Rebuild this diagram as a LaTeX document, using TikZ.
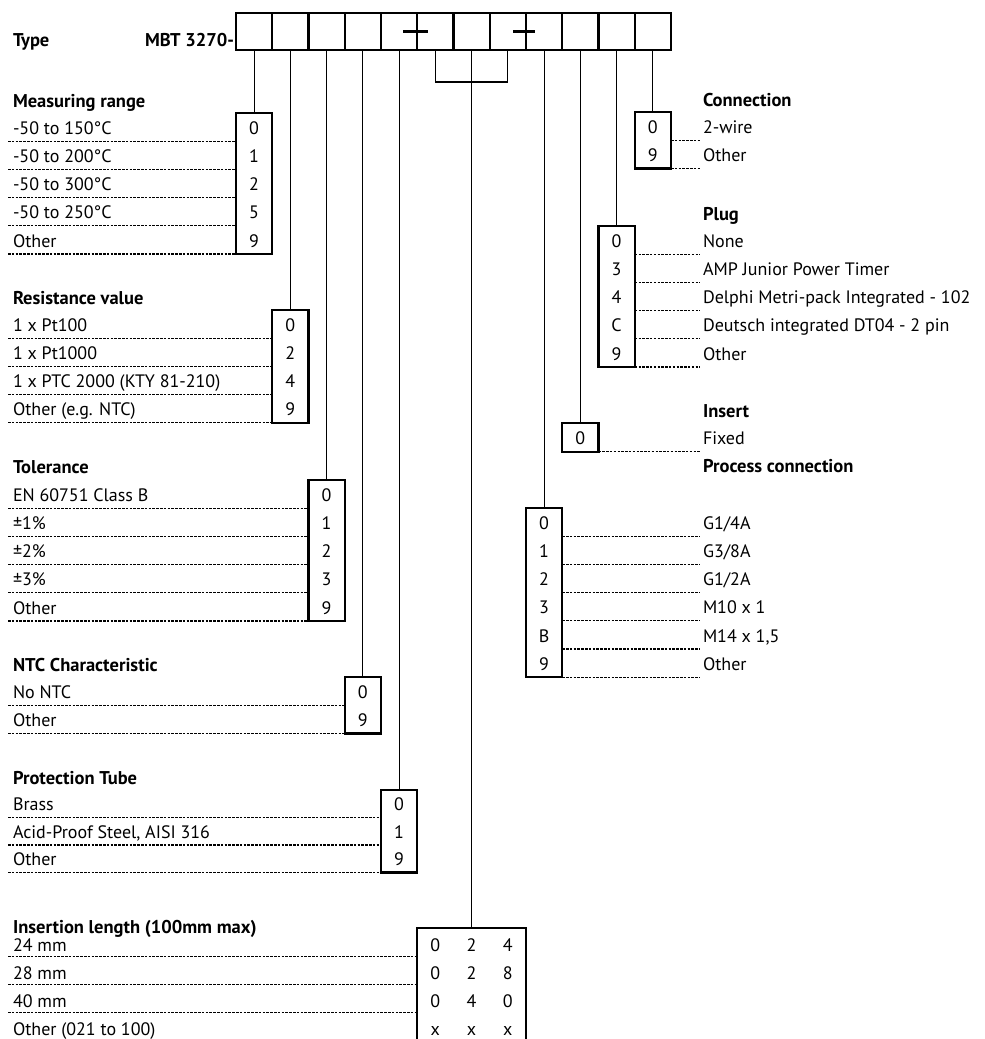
\documentclass[tikz,border=0pt]{standalone}
\usepackage{fontspec}
\setmainfont{PT Sans}
\usetikzlibrary{positioning,calc}

\begin{document}
\begin{tikzpicture}[x=1pt, y=-1pt,
  every node/.style={inner sep=0pt, outer sep=0pt, font=\fontsize{18}{21}\selectfont},
  cell/.style={rectangle, draw, line width=2.2pt, minimum width=36.25pt, minimum height=37pt},
  codebox/.style={rectangle, draw, line width=2.2pt, minimum width=36.25pt, anchor=north},
  title/.style={anchor=base west, font=\fontsize{18.5}{21}\selectfont\bfseries},
  item/.style={anchor=base west},
  code/.style={anchor=base},
  link/.style={line width=1.1pt},
  leader/.style={line width=1.1pt, dash pattern=on 2.5pt off 1.3pt}
]
  \useasboundingbox (0,0) rectangle (985,1039);

  % type code row
  \node[title] (type) at (13,46) {Type};
  \node[title, anchor=base east] (model) at (234,46) {MBT 3270-};
  \foreach \i in {1,...,12}
    \node[cell] (c\i) at ({236+36.25*(\i-0.5)},31.5) {};
  \draw[line width=2.2pt] ([xshift=-14pt]c6.west) -- ([xshift=11pt]c6.west);
  \draw[line width=2.2pt] ([xshift=-13pt]c9.west) -- ([xshift=9pt]c9.west);

  % measuring range
  \node[codebox, minimum height=141pt] (range) at (c1 |- 0,113) {};
  \node[title] (range-h) at (13,107) {Measuring range};
  \foreach \t/\c [count=\r] in {-50 to 150°C/0, -50 to 200°C/1, -50 to 300°C/2, -50 to 250°C/5, Other/9} {
    \pgfmathsetmacro\y{113+28.2*\r} \pgfmathsetmacro\b{\y-7}
    \node[item] (range-t\r) at (13,\b) {\t};
    \node[code] (range-c\r) at (range |- 0,\b) {\c};
    \draw[leader] (8,\y) -- (range.west |- 0,\y);
  }
  \draw[link] (c1.south) -- (range.north);

  % resistance value
  \node[codebox, minimum height=112.8pt] (resist) at (c2 |- 0,310) {};
  \node[title] (resist-h) at (13,304) {Resistance value};
  \foreach \t/\c [count=\r] in {1 x Pt100/0, 1 x Pt1000/2, 1 x PTC 2000 (KTY 81-210)/4, Other (e.g. NTC)/9} {
    \pgfmathsetmacro\y{310+28.2*\r} \pgfmathsetmacro\b{\y-7}
    \node[item] (resist-t\r) at (13,\b) {\t};
    \node[code] (resist-c\r) at (resist |- 0,\b) {\c};
    \draw[leader] (8,\y) -- (resist.west |- 0,\y);
  }
  \draw[link] (c2.south) -- (resist.north);

  % tolerance
  \node[codebox, minimum height=141pt] (toler) at (c3 |- 0,480) {};
  \node[title] (toler-h) at (13,473) {Tolerance};
  \foreach \t/\c [count=\r] in {EN 60751 Class B/0, ±1\%/1, ±2\%/2, ±3\%/3, Other/9} {
    \pgfmathsetmacro\y{480+28.2*\r} \pgfmathsetmacro\b{\y-7}
    \node[item] (toler-t\r) at (13,\b) {\t};
    \node[code] (toler-c\r) at (toler |- 0,\b) {\c};
    \draw[leader] (8,\y) -- (toler.west |- 0,\y);
  }
  \draw[link] (c3.south) -- (toler.north);

  % NTC characteristic
  \node[codebox, minimum height=56.4pt] (ntc) at (c4 |- 0,677) {};
  \node[title] (ntc-h) at (13,671) {NTC Characteristic};
  \foreach \t/\c [count=\r] in {No NTC/0, Other/9} {
    \pgfmathsetmacro\y{677+28.2*\r} \pgfmathsetmacro\b{\y-7}
    \node[item] (ntc-t\r) at (13,\b) {\t};
    \node[code] (ntc-c\r) at (ntc |- 0,\b) {\c};
    \draw[leader] (8,\y) -- (ntc.west |- 0,\y);
  }
  \draw[link] (c4.south) -- (ntc.north);

  % protection tube
  \node[codebox, minimum height=82.5pt] (tube) at (c5 |- 0,790) {};
  \node[title] (tube-h) at (13,784) {Protection Tube};
  \foreach \t/\c [count=\r] in {Brass/0, {Acid-Proof Steel, AISI 316}/1, Other/9} {
    \pgfmathsetmacro\y{790+27.5*\r} \pgfmathsetmacro\b{\y-7}
    \node[item] (tube-t\r) at (13,\b) {\t};
    \node[code] (tube-c\r) at (tube |- 0,\b) {\c};
    \draw[leader] (8,\y) -- (tube.west |- 0,\y);
  }
  \draw[link] (c5.south) -- (tube.north);

  % insertion length
  \node[codebox, minimum width=108.75pt, minimum height=112.8pt] (length) at (c7 |- 0,928) {};
  \node[title] (length-h) at (13,933) {Insertion length (100mm max)};
  \foreach \t/\p/\q/\s [count=\r] in {24 mm/0/2/4, 28 mm/0/2/8, 40 mm/0/4/0, Other (021 to 100)/x/x/x} {
    \pgfmathsetmacro\y{928+28.2*\r} \pgfmathsetmacro\b{\y-5}
    \node[item] (length-t\r) at (13,\b) {\t};
    \node[code] (length-a\r) at (c6 |- 0,\b) {\p};
    \node[code] (length-b\r) at (c7 |- 0,\b) {\q};
    \node[code] (length-d\r) at (c8 |- 0,\b) {\s};
    \ifnum\r<4 \draw[leader] (8,\y) -- (length.west |- 0,\y); \fi
  }
  \draw[link] (c6.south) -- ++(0,32) -| (c8.south);
  \draw[link] (c7.south) -- (length.north);

  % connection
  \node[codebox, minimum height=56.4pt] (conn) at (c12 |- 0,112) {};
  \node[title] (conn-h) at (703,106) {Connection};
  \foreach \c/\t [count=\r] in {0/2-wire, 9/Other} {
    \pgfmathsetmacro\y{112+28.2*\r} \pgfmathsetmacro\b{\y-7}
    \node[code] (conn-c\r) at (conn |- 0,\b) {\c};
    \node[item] (conn-t\r) at (703,\b) {\t};
    \draw[leader] (conn.east |- 0,\y) -- (700,\y);
  }
  \draw[link] (c12.south) -- (conn.north);

  % plug
  \node[codebox, minimum height=141pt] (plug) at (c11 |- 0,226) {};
  \node[title] (plug-h) at (703,220) {Plug};
  \foreach \c/\t [count=\r] in {0/None, 3/AMP Junior Power Timer, 4/Delphi Metri-pack Integrated - 102, C/Deutsch integrated DT04 - 2 pin, 9/Other} {
    \pgfmathsetmacro\y{226+28.2*\r} \pgfmathsetmacro\b{\y-7}
    \node[code] (plug-c\r) at (plug |- 0,\b) {\c};
    \node[item] (plug-t\r) at (703,\b) {\t};
    \draw[leader] (plug.east |- 0,\y) -- (700,\y);
  }
  \draw[link] (c11.south) -- (plug.north);

  % insert
  \node[codebox, minimum height=28.8pt] (insert) at (c10 |- 0,423) {};
  \node[title] (insert-h) at (703,417) {Insert};
  \node[code] (insert-c1) at (insert |- 0,444.8) {0};
  \node[item] (insert-t1) at (703,444.8) {Fixed};
  \draw[leader] (insert.east |- 0,451.8) -- (700,451.8);
  \draw[link] (c10.south) -- (insert.north);

  % process connection
  \node[codebox, minimum height=169.2pt] (proc) at (c9 |- 0,508) {};
  \node[title] (proc-h) at (703,472) {Process connection};
  \foreach \c/\t [count=\r] in {0/{G1/4A}, 1/{G3/8A}, 2/{G1/2A}, 3/M10 x 1, B/{M14 x 1,5}, 9/Other} {
    \pgfmathsetmacro\y{508+28.2*\r} \pgfmathsetmacro\b{\y-7}
    \node[code] (proc-c\r) at (proc |- 0,\b) {\c};
    \node[item] (proc-t\r) at (703,\b) {\t};
    \draw[leader] (proc.east |- 0,\y) -- (700,\y);
  }
  \draw[link] (c9.south) -- (proc.north);
\end{tikzpicture}
\end{document}
